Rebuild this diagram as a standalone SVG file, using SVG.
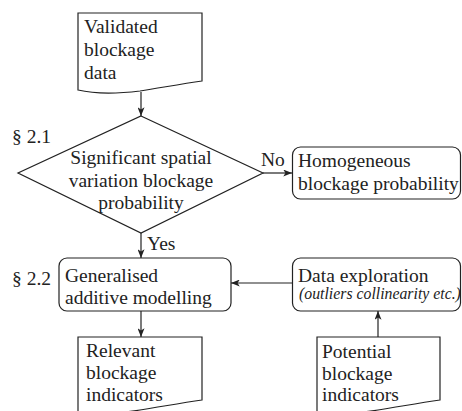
<svg xmlns="http://www.w3.org/2000/svg" width="462" height="411" viewBox="0 0 462 411">
<defs>
<style>
.s{fill:#fff;stroke:#222;stroke-width:1.2}
.t{font-family:'Liberation Serif','DejaVu Serif',serif;font-size:19.5px;fill:#222}
.i{font-family:'Liberation Serif','DejaVu Serif',serif;font-size:15.8px;font-style:italic;fill:#222}
.c line{stroke:#222;stroke-width:1.2}
</style>
<marker id="ah" viewBox="0 0 10 8" refX="10" refY="4" markerWidth="9" markerHeight="7" markerUnits="userSpaceOnUse" orient="auto">
<path d="M0,0 L10,4 L0,8 L2.5,4 z" fill="#222"/>
</marker>
</defs>
<rect width="462" height="411" fill="#fff"/>

<g class="c">
<line x1="141" y1="92" x2="141" y2="116" marker-end="url(#ah)"/>
<line x1="263" y1="173" x2="292" y2="173" marker-end="url(#ah)"/>
<line x1="141" y1="233" x2="141" y2="258" marker-end="url(#ah)"/>
<line x1="292" y1="283" x2="231" y2="283" marker-end="url(#ah)"/>
<line x1="141" y1="311" x2="141" y2="337" marker-end="url(#ah)"/>
<line x1="378" y1="337" x2="378" y2="311" marker-end="url(#ah)"/>
<text class="t" x="261" y="166">No</text>
<text class="t" x="147" y="250">Yes</text>
</g>

<g id="validated">
<path class="s" d="M78,13 H202 V81 C180,84 160,88 140,91 C115,94 95,94 78,90 Z"/>
<text class="t" x="84" y="33">Validated</text>
<text class="t" x="84" y="56">blockage</text>
<text class="t" x="84" y="79">data</text>
</g>

<g id="sec21"><text class="t" x="12" y="143">§ 2.1</text></g>

<g id="decision">
<path class="s" d="M141,116 L263,173 L141,233 L18,173 Z"/>
<text class="t" x="141" y="164" text-anchor="middle">Significant spatial</text>
<text class="t" x="141" y="186.5" text-anchor="middle">variation blockage</text>
<text class="t" x="141" y="209" text-anchor="middle">probability</text>
</g>

<g id="homogeneous">
<rect class="s" x="292.5" y="147" width="168" height="52" rx="8"/>
<text class="t" x="298" y="167">Homogeneous</text>
<text class="t" x="298" y="189.5">blockage probability</text>
</g>

<g id="sec22"><text class="t" x="12" y="285">§ 2.2</text></g>

<g id="gam">
<rect class="s" x="59" y="258" width="172" height="53" rx="8"/>
<text class="t" x="65" y="282">Generalised</text>
<text class="t" x="65" y="304">additive modelling</text>
</g>

<g id="exploration">
<rect class="s" x="292.5" y="258" width="168" height="53" rx="8"/>
<text class="t" x="298" y="282">Data exploration</text>
<text class="i" x="299" y="299">(outliers collinearity etc.)</text>
</g>

<g id="relevant">
<path class="s" d="M78,337 H202 V400 C180,403 160,407 140,410 C115,414 95,414 78,413 Z"/>
<text class="t" x="86" y="357">Relevant</text>
<text class="t" x="86" y="379">blockage</text>
<text class="t" x="86" y="401">indicators</text>
</g>

<g id="potential">
<path class="s" d="M317,337 H440 V400 C418,403 398,407 378,410 C353,414 333,414 317,413 Z"/>
<text class="t" x="322" y="358">Potential</text>
<text class="t" x="322" y="380">blockage</text>
<text class="t" x="322" y="401">indicators</text>
</g>
</svg>
